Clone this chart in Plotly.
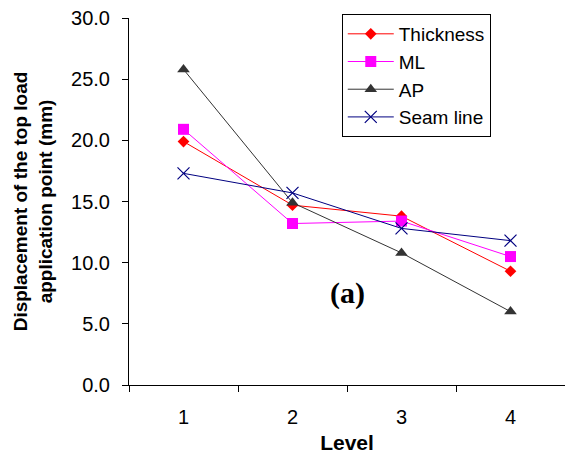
import plotly.graph_objects as go

levels = [1, 2, 3, 4]
level_labels = ["1", "2", "3", "4"]
thickness = [19.9, 14.7, 13.8, 9.3]
ml = [20.9, 13.2, 13.4, 10.5]
ap = [25.8, 14.9, 10.8, 6.0]
seam_line = [17.3, 15.7, 12.8, 11.8]

fig = go.Figure()
fig.add_trace(go.Scatter(x=levels, y=thickness, name="Thickness", mode="lines+markers",
                         line=dict(color="#ff0000", width=1),
                         marker=dict(symbol="diamond", size=9, color="#ff0000")))
fig.add_trace(go.Scatter(x=levels, y=ml, name="ML", mode="lines+markers",
                         line=dict(color="#ff00ff", width=1),
                         marker=dict(symbol="square", size=11, color="#ff00ff")))
fig.add_trace(go.Scatter(x=levels, y=ap, name="AP", mode="lines+markers",
                         line=dict(color="#333333", width=1),
                         marker=dict(symbol="triangle-up", size=11, color="#333333")))
fig.add_trace(go.Scatter(x=levels, y=seam_line, name="Seam line", mode="lines+markers",
                         line=dict(color="#000080", width=1),
                         marker=dict(symbol="x-thin-open", size=12,
                                     line=dict(color="#000080", width=1.2), color="#000080")))

fig.add_annotation(x=2.5, y=7.5, text="<b>(a)</b>", showarrow=False,
                   font=dict(family="Liberation Serif, Times New Roman, serif", size=30, color="black"))

fig.update_layout(
    width=565, height=454,
    margin=dict(l=121, r=8, t=10, b=77, autoexpand=False),
    paper_bgcolor="white", plot_bgcolor="white",
    font=dict(family="Liberation Sans, Arial, sans-serif", color="black"),
    showlegend=True,
    legend=dict(x=0.488, y=1.011, xanchor="left", yanchor="top",
                bordercolor="black", borderwidth=1, bgcolor="white",
                font=dict(size=19), tracegroupgap=0, itemwidth=46),
    xaxis=dict(range=[0.5, 4.5], tickvals=levels, ticktext=level_labels,
               ticks="", showgrid=False, zeroline=False, automargin=False,
               showline=True, linecolor="black", linewidth=1,
               tickfont=dict(size=20), ticklabelstandoff=14,
               minor=dict(tickvals=[0.5, 1.5, 2.5, 3.5, 4.5], ticks="outside",
                          ticklen=6, tickcolor="black", showgrid=False),
               title=dict(text="<b>Level</b>", font=dict(size=21), standoff=8)),
    yaxis=dict(range=[0, 30], tickvals=[0, 5, 10, 15, 20, 25, 30], tickformat=".1f",
               ticks="outside", ticklen=6, tickcolor="black", showgrid=False, zeroline=False,
               showline=True, linecolor="black", linewidth=1, automargin=False,
               tickfont=dict(size=20), ticklabelstandoff=8, ticklabeloverflow="allow",
               title=dict(text="<b>Displacement of the top load<br>application point (mm)</b>",
                          font=dict(size=19), standoff=13)),
)

fig.write_html("out.html")
